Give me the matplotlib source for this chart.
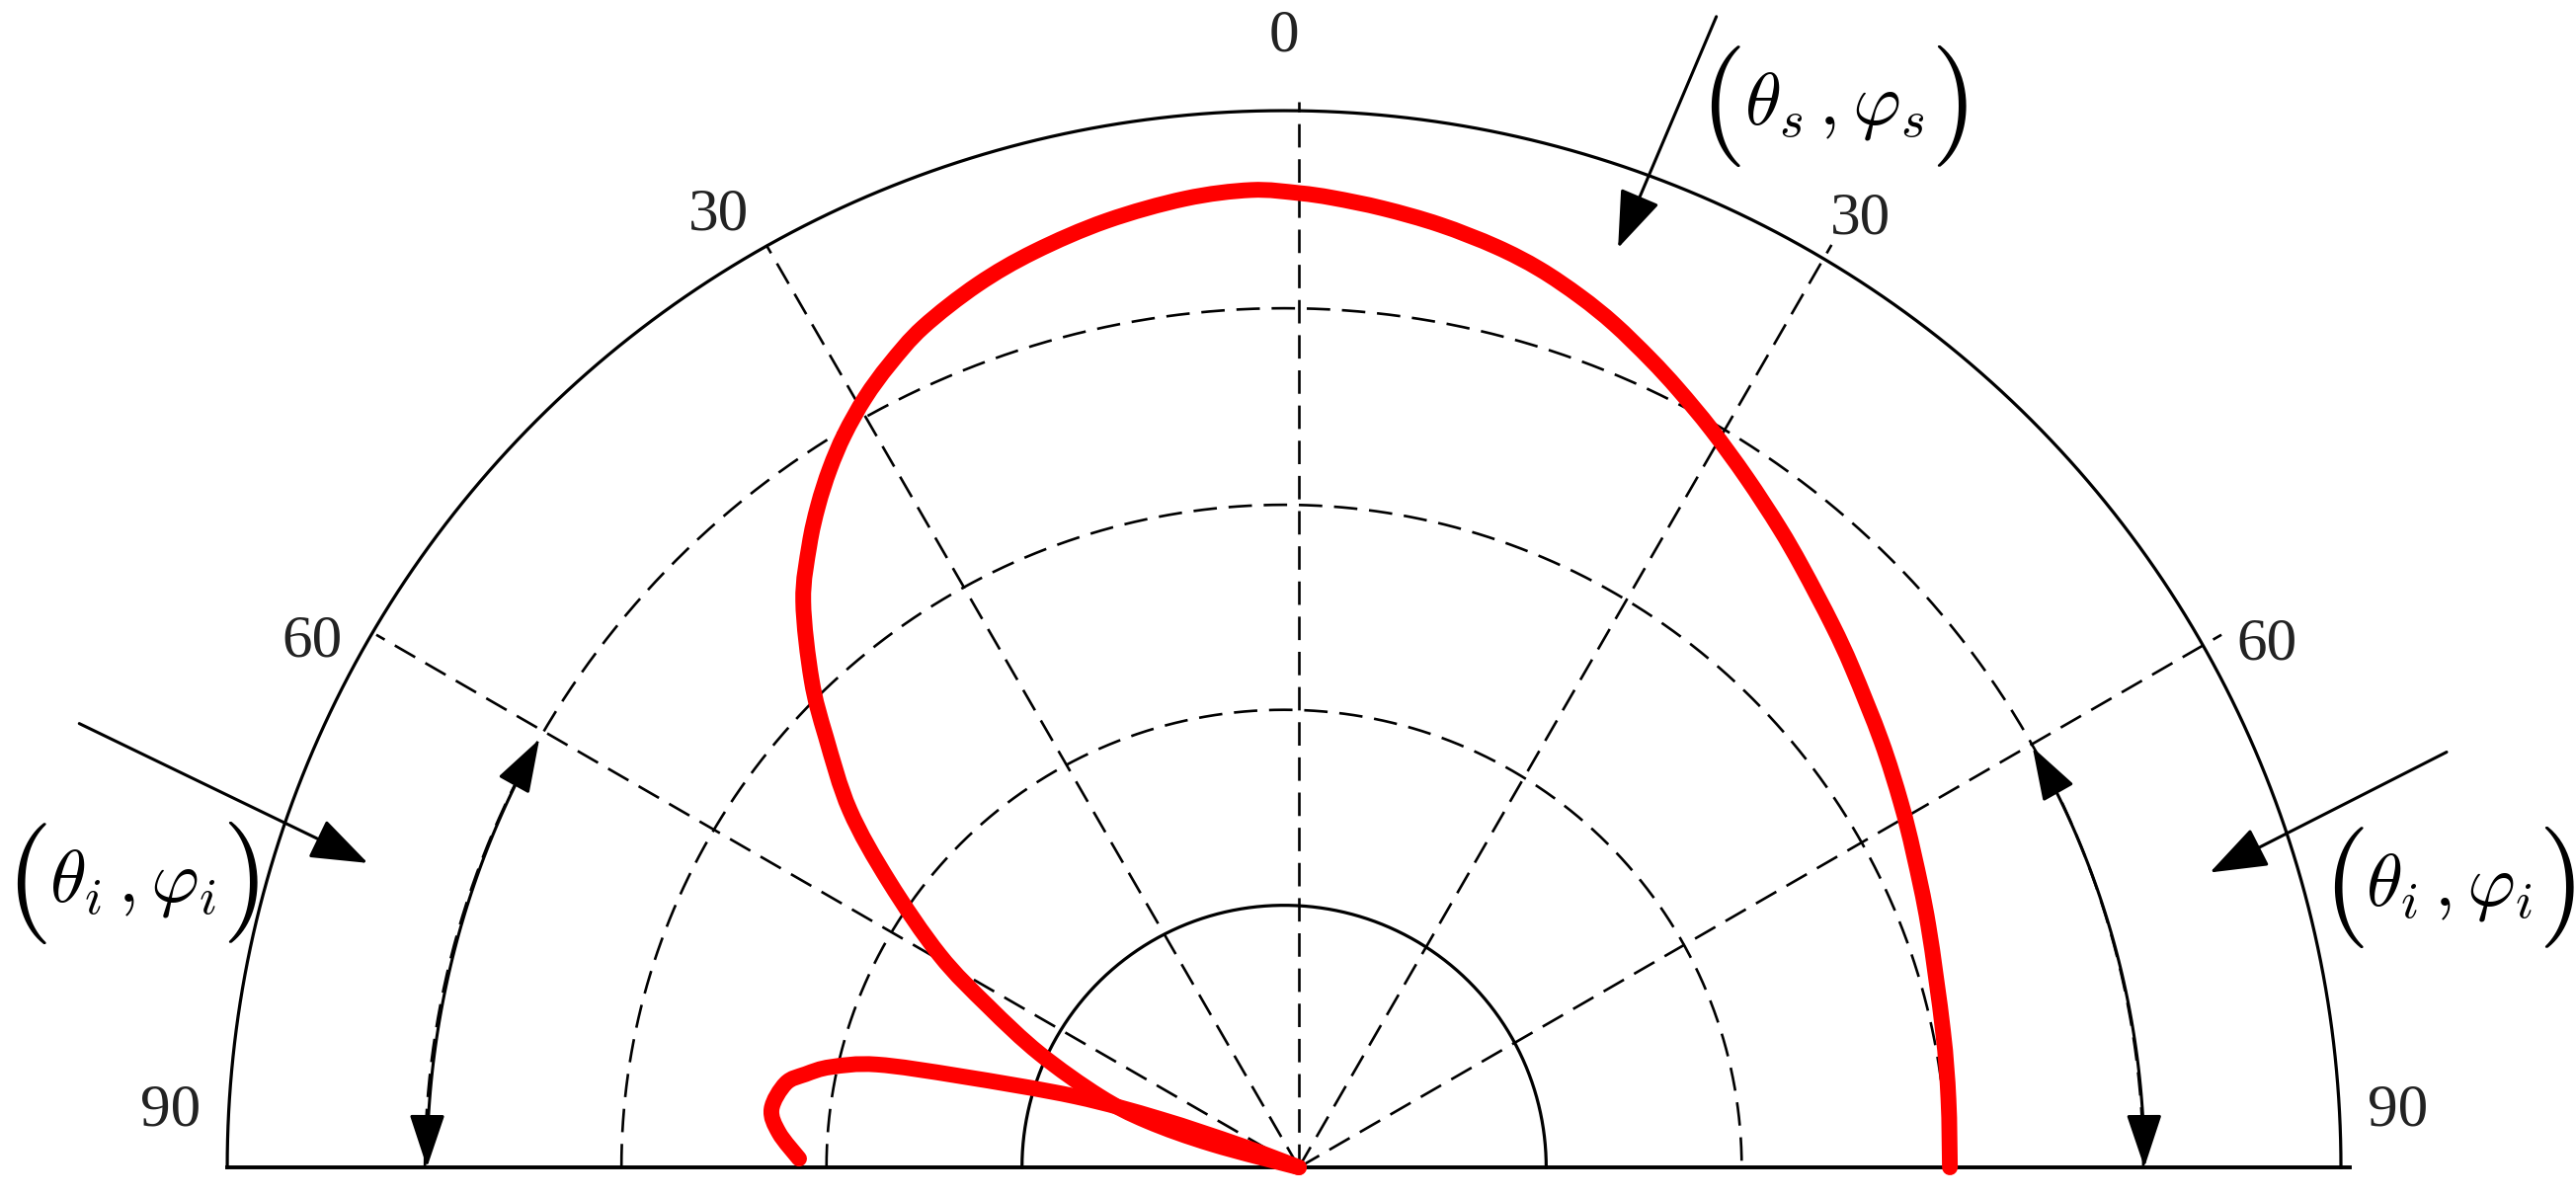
import numpy as np
import matplotlib
matplotlib.use('Agg')
import matplotlib.pyplot as plt
from matplotlib.patches import FancyArrowPatch, PathPatch
from matplotlib.path import Path

plt.rcParams['mathtext.fontset'] = 'cm'

# grid of the half polar diagram (radius 1 = outer circle)
ring_r = [0.248, 0.433, 0.627, 0.813, 1.0]
ring_ls = ['-', '--', '--', '--', '-']
spoke_deg = [-60, -30, 0, 30, 60]
tick_txt = ['90', '60', '30', '0', '30', '60', '90']
tick_deg = [-87.1, -61.6, -30.7, 0, 31.3, 62.0, 87.1]
tick_rad = [1.055, 1.046, 1.048, 1.07, 1.05, 1.053, 1.055]

# red scattering pattern, angle from the normal (deg) and radius
main_deg = [90, 84, 78, 69, 63, 58.8, 53.8, 48, 44.5, 40, 36.9, 33, 29.2, 26,
            23.5, 20.5, 17.9, 15, 12.1, 8.5, 5, 2, 0, -2.8, -6.7, -11.5,
            -16.1, -20, -24.1, -27, -29.4, -31.8, -33.9, -36, -38.2, -41.2,
            -45, -47.7, -51.5, -55.1, -59.4, -62.6, -66.3, -70.4, -73, -75,
            -76.5]
main_r = [0.616, 0.618, 0.623, 0.638, 0.653, 0.666, 0.683, 0.705, 0.720,
          0.741, 0.757, 0.778, 0.800, 0.819, 0.834, 0.852, 0.866, 0.880,
          0.891, 0.902, 0.911, 0.918, 0.922, 0.926, 0.923, 0.914, 0.902,
          0.889, 0.871, 0.853, 0.836, 0.816, 0.796, 0.774, 0.749, 0.712,
          0.652, 0.605, 0.543, 0.473, 0.395, 0.331, 0.268, 0.200, 0.150,
          0.085, 0.0]
small_deg = [-68, -69.5, -70.8, -72.4, -74.9, -76.3, -77.9, -79.3, -80.7,
             -83.7, -86.2, -89]
small_r = [0.0, 0.06, 0.139, 0.222, 0.331, 0.411, 0.453, 0.475, 0.492,
           0.502, 0.493, 0.473]

cx = -0.014  # the circles sit a little left of the spokes' origin
dash = (0, (9, 4.5))


def pol(deg, r, x0=0.0):
    t = np.radians(np.asarray(deg, dtype=float))
    r = np.asarray(r, dtype=float)
    return x0 + r * np.sin(t), r * np.cos(t)


def smooth(x, y):
    # catmull-rom through the read points, drawn as cubic bezier
    p = np.column_stack([x, y])
    n = len(p)
    verts, codes = [p[0]], [Path.MOVETO]
    for i in range(n - 1):
        p0, p1 = p[max(i - 1, 0)], p[i]
        p2, p3 = p[i + 1], p[min(i + 2, n - 1)]
        verts += [p1 + (p2 - p0) / 6, p2 - (p3 - p1) / 6, p2]
        codes += [Path.CURVE4] * 3
    return Path(verts, codes)


fig = plt.figure(figsize=(26.08, 12.11), dpi=100)
ax = fig.add_axes([0, 0, 1, 1])
ax.set_xlim(-1.2290, 1.2084)
ax.set_ylim(-0.0271, 1.1047)
ax.set_aspect('equal')
ax.axis('off')

t = np.linspace(-90, 90, 721)
for r, ls in zip(ring_r, ring_ls):
    x, y = pol(t, np.full_like(t, r), cx)
    if ls == '-':
        ax.plot(x, y, color='black', lw=2.3, zorder=2)
    else:
        ax.plot(x, y, color='black', lw=1.9, ls=dash, zorder=2)

for a in spoke_deg:
    x, y = pol([a, a], [0, 1.008])
    ax.plot(x, y, color='black', lw=1.9, ls=dash, zorder=2)

ax.plot([cx - 1.0, cx + 1.008], [0, 0], color='black', lw=2.8, zorder=3)

for a, rr, s in zip(tick_deg, tick_rad, tick_txt):
    x, y = pol(a, rr, cx)
    ax.text(x, y, s, fontsize=44, family='Liberation Serif',
            ha='center', va='center', color='#222222')

# pattern
for d, r in [(main_deg, main_r), (small_deg, small_r)]:
    x, y = pol(d, r)
    ax.add_patch(PathPatch(smooth(x, y), fill=False, ec='#ff0000', lw=11.5,
                           capstyle='round', joinstyle='round', zorder=5))

# incident / scattered direction arrows
arr = dict(arrowstyle='-|>,head_length=2.6,head_width=0.95',
           color='black', lw=2.2, mutation_scale=14, zorder=6)
for p0, p1 in [((0.395, 1.089), (0.302, 0.870)),
               ((-1.154, 0.420), (-0.881, 0.288)),
               ((1.086, 0.393), (0.862, 0.279))]:
    ax.add_patch(FancyArrowPatch(p0, p1, shrinkA=0, shrinkB=0, **arr))

# double arrows along arcs between 60 and 90 deg
for r, a0, a1 in [(0.825, -60.6, -90), (0.80, 60.2, 90)]:
    aa = np.linspace(a0, a1, 60)
    x, y = pol(aa, np.full_like(aa, r))
    ax.add_patch(FancyArrowPatch(path=Path(np.column_stack([x, y])),
                                 arrowstyle='<|-|>,head_length=2.4,head_width=0.8',
                                 color='black', lw=2.2, mutation_scale=14,
                                 shrinkA=0, shrinkB=0, zorder=6))

# angle labels with tall brackets
for x, y, sub, half in [(0.5065, 1.004, 's', 0.108),
                        (-1.103, 0.269, 'i', 0.101),
                        (1.089, 0.265, 'i', 0.101)]:
    ax.text(x, y, rf'$\theta_{sub}\,,\varphi_{sub}$', fontsize=54,
            ha='center', va='center')
    ax.text(x - half, y, r'$($', fontsize=88, ha='center', va='center')
    ax.text(x + half, y, r'$)$', fontsize=88, ha='center', va='center')

fig.savefig('out.png', dpi=100)
